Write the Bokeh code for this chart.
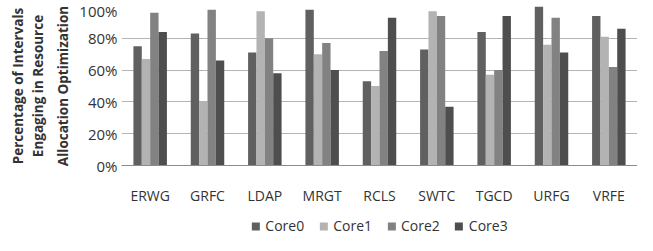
from bokeh.plotting import figure
from bokeh.layouts import column
from bokeh.models import ColumnDataSource, Legend, LegendItem, NumeralTickFormatter, FixedTicker, Title
from bokeh.transform import dodge
from bokeh.embed import file_html
from bokeh.resources import INLINE

categories = ["ERWG", "GRFC", "LDAP", "MRGT", "RCLS", "SWTC", "TGCD", "URFG", "VRFE"]
core0 = [0.75, 0.83, 0.71, 0.98, 0.53, 0.73, 0.84, 1.00, 0.94]
core1 = [0.67, 0.40, 0.97, 0.70, 0.50, 0.97, 0.57, 0.76, 0.81]
core2 = [0.96, 0.98, 0.80, 0.77, 0.72, 0.94, 0.60, 0.93, 0.62]
core3 = [0.84, 0.66, 0.58, 0.60, 0.93, 0.37, 0.94, 0.71, 0.86]
series_names = ["Core0", "Core1", "Core2", "Core3"]
y_ticks = [0, 0.2, 0.4, 0.6, 0.8, 1.0]
y_title_lines = ["Percentage of Intervals", "Engaging in Resource", "Allocation Optimization"]

colors = ["#606060", "#b3b3b3", "#828282", "#4e4e4e"]
offsets = [-0.219, -0.073, 0.073, 0.219]
FONT = "Open Sans"
TEXT = "#333333"

source = ColumnDataSource(dict(cat=categories, Core0=core0, Core1=core1, Core2=core2, Core3=core3))

p = figure(x_range=categories, y_range=(0, 1.0), width=637, height=207,
           output_backend="svg", toolbar_location=None,
           min_border_left=121, min_border_right=0, min_border_top=6, min_border_bottom=40)

for name, col, off in zip(series_names, colors, offsets):
    p.vbar(x=dodge("cat", off, range=p.x_range), top=name, width=0.146,
           source=source, fill_color=col, line_color=None)

p.outline_line_color = None
p.background_fill_color = "white"
p.border_fill_color = "white"

p.xgrid.grid_line_color = None
p.ygrid.grid_line_color = "#b4b4b4"
p.ygrid.grid_line_width = 1

p.yaxis.ticker = FixedTicker(ticks=y_ticks)
p.yaxis.formatter = NumeralTickFormatter(format="0%")
p.yaxis.axis_line_color = None
p.yaxis.major_tick_line_color = None
p.yaxis.minor_tick_line_color = None
p.yaxis.major_tick_out = 0
p.yaxis.major_label_standoff = 4
p.yaxis.major_label_text_font = FONT
p.yaxis.major_label_text_font_size = "15px"
p.yaxis.major_label_text_color = TEXT

# y-axis title: three stacked side titles (innermost first)
title_standoffs = [10, 0, 0]
for line, so in zip(reversed(y_title_lines), title_standoffs):
    p.add_layout(Title(text=line, align="center", text_font=FONT, text_font_style="bold",
                       text_font_size="13.5px", text_color=TEXT, standoff=so, offset=0), "left")

p.xaxis.axis_line_color = "#8c8c8c"
p.xaxis.major_tick_line_color = None
p.xaxis.minor_tick_line_color = None
p.xaxis.major_tick_out = 0
p.xaxis.major_label_standoff = 20
p.xaxis.major_label_text_font = FONT
p.xaxis.major_label_text_font_size = "14px"
p.xaxis.major_label_text_color = TEXT

# legend strip below the chart (proxy renderers lie outside the strip's visible range)
lg = figure(width=637, height=28, x_range=(0, 1), y_range=(0, 1),
            output_backend="svg", toolbar_location=None, x_axis_type=None, y_axis_type=None,
            min_border_left=121, min_border_right=0, min_border_top=0, min_border_bottom=0)
lg.outline_line_color = None
lg.xgrid.grid_line_color = None
lg.ygrid.grid_line_color = None
lg.background_fill_color = "white"
lg.border_fill_color = "white"
items = []
for name, col, vals in zip(series_names, colors, [core0, core1, core2, core3]):
    r = lg.vbar(x=[-5.0], top=[-5.0 + vals[0]], bottom=[-5.0], width=0.1,
                fill_color=col, line_color=None)
    items.append(LegendItem(label=name, renderers=[r]))
legend = Legend(items=items, orientation="horizontal", location="bottom_center",
                label_text_font=FONT, label_text_font_size="14px", label_text_color=TEXT,
                glyph_width=10, glyph_height=10, spacing=14, label_standoff=5,
                border_line_color=None, background_fill_alpha=0, padding=0, margin=0)
lg.add_layout(legend)

layout = column(p, lg, spacing=0)
open("out.html", "w").write(file_html(layout, INLINE))
